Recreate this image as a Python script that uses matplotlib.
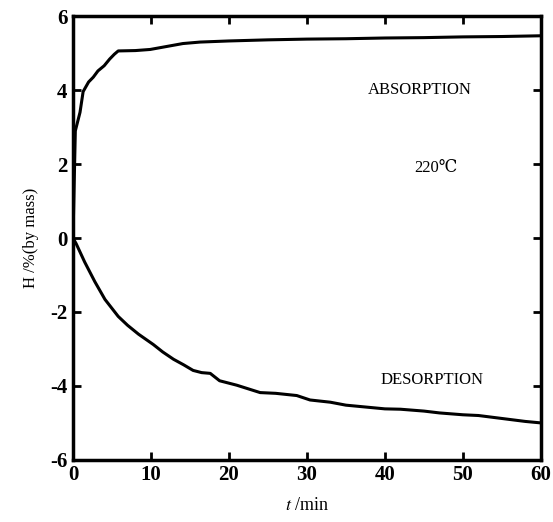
import matplotlib
matplotlib.use("Agg")
import matplotlib.pyplot as plt

# absorption curve (t in min, H in % by mass)
t_abs = [0, 0.3, 0.9, 1.3, 2.0, 2.6, 3.2, 4.0, 4.7, 5.3, 5.8, 8.0, 9.9, 12.0, 14.1, 16.3, 20, 25, 30, 35, 40, 45, 50, 55, 60]
h_abs = [0, 2.9, 3.4, 3.96, 4.22, 4.35, 4.52, 4.66, 4.84, 4.97, 5.06, 5.07, 5.1, 5.18, 5.26, 5.3, 5.33, 5.36, 5.38, 5.39, 5.41, 5.42, 5.44, 5.45, 5.47]

# desorption curve
t_des = [0, 0.4, 1.5, 2.8, 4.1, 5.8, 7.0, 8.4, 10.3, 11.5, 12.9, 14.2, 15.4, 16.5, 17.6, 18.8, 21, 22.5, 24, 26,
         28.7, 30.4, 33, 35, 37, 40, 42, 45, 47, 50, 52, 55, 58, 60]
h_des = [0, -0.15, -0.65, -1.18, -1.66, -2.12, -2.36, -2.6, -2.88, -3.08, -3.28, -3.43, -3.58, -3.64, -3.66, -3.86,
         -3.98, -4.08, -4.18, -4.2, -4.26, -4.38, -4.44, -4.52, -4.56, -4.62, -4.63, -4.68, -4.73, -4.78, -4.8, -4.88, -4.96, -5.0]

x_ticks = [0, 10, 20, 30, 40, 50, 60]
y_ticks = [-6, -4, -2, 0, 2, 4, 6]

plt.rcParams['font.family'] = ['Liberation Serif', 'DejaVu Serif']
plt.rcParams['axes.unicode_minus'] = False
plt.rcParams['mathtext.fontset'] = 'stix'

fig = plt.figure(figsize=(5.53, 5.22), dpi=100)
ax = fig.add_axes([0.132, 0.119, 0.846, 0.85])

ax.plot(t_abs, h_abs, color="black", lw=2.2)
ax.plot(t_des, h_des, color="black", lw=2.2)

ax.set_xlim(0, 60)
ax.set_ylim(-6, 6)
ax.set_xticks(x_ticks)
ax.set_yticks(y_ticks)
ax.tick_params(direction="in", length=6, width=2, top=True, right=True,
               labelsize=15, pad=4)
for lab in ax.get_xticklabels() + ax.get_yticklabels():
    lab.set_fontweight("bold")
for s in ax.spines.values():
    s.set_linewidth(2.5)

ax.set_ylabel("H /%(by mass)", fontsize=12, labelpad=8)
ax.set_xlabel(r"$t$ /min", fontsize=13, labelpad=8)

ax.text(44.5, 4.0, "ABSORPTION", fontsize=12, ha="center", va="center")
ax.text(46.5, 1.9, "220\u2103", fontsize=12, ha="center", va="center")
ax.text(46, -3.85, "DESORPTION", fontsize=12, ha="center", va="center")

fig.savefig("out.png", dpi=100)
